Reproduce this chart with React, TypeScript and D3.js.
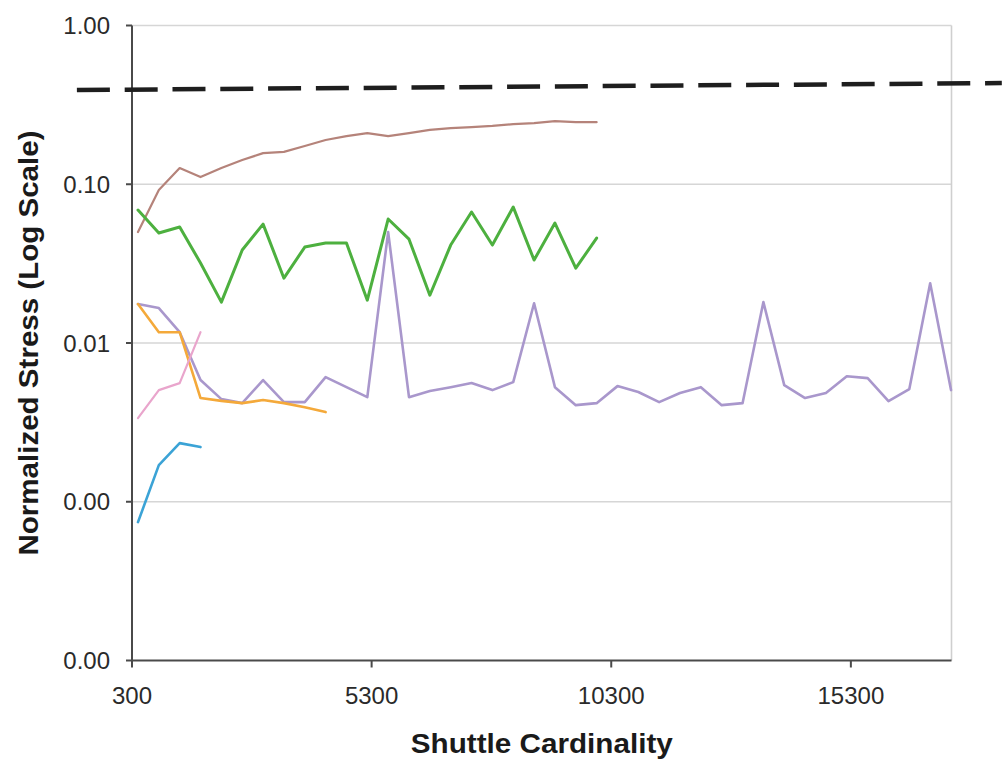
import React from "react";
import * as d3 from "d3";

// Shuttle cardinality (x) values of the sampled runs
const cardinality = [
  425, 860, 1295, 1730, 2165, 2600, 3035, 3470, 3905, 4340,
  4775, 5210, 5645, 6080, 6515, 6950, 7385, 7820, 8255, 8690,
  9125, 9560, 9995, 10430, 10865, 11300, 11735, 12170, 12605, 13040,
  13475, 13910, 14345, 14780, 15215, 15650, 16085, 16520, 16955, 17390,
];

// Normalized stress per series (log scale)
const brownStress = [
  0.05, 0.0919, 0.1265, 0.111, 0.1265, 0.142, 0.157, 0.16, 0.174, 0.19,
  0.201, 0.21, 0.201, 0.21, 0.22, 0.226, 0.229, 0.233, 0.239, 0.243,
  0.25, 0.246, 0.246,
];
const greenStress = [
  0.0688, 0.0493, 0.0538, 0.0319, 0.0181, 0.0385, 0.0561, 0.0256, 0.0402, 0.0426,
  0.0426, 0.0186, 0.0604, 0.0451, 0.02, 0.0414, 0.0668, 0.0414, 0.0718, 0.0333,
  0.057, 0.0296, 0.0458,
];
const purpleStress = [
  0.0176, 0.0166, 0.0117, 0.00584, 0.00443, 0.00418, 0.00584, 0.00424, 0.00424, 0.00609,
  0.00527, 0.00456, 0.05, 0.00456, 0.00498, 0.00527, 0.00559, 0.00505, 0.00567, 0.0178,
  0.00527, 0.00406, 0.00418, 0.00535, 0.00491, 0.00424, 0.00484, 0.00527, 0.00406, 0.00418,
  0.0181, 0.00543, 0.0045, 0.00484, 0.00618, 0.00601, 0.0043, 0.00513, 0.0238, 0.00505,
];
const orangeStress = [
  0.0176, 0.0117, 0.0117, 0.0045, 0.00432, 0.00418, 0.00437, 0.00418, 0.00394, 0.00367,
];
const pinkStress = [0.00336, 0.00505, 0.00559, 0.0117];
const blueStress = [0.000744, 0.0017, 0.00234, 0.00221];

// Dashed reference line (endpoints in data units)
const refX = [-850, 18450];
const refY = [0.392, 0.434];

const xTicks = [300, 5300, 10300, 15300];
const yTicks = [1, 0.1, 0.01, 0.001, 0.0001];
const yTickLabels = ["1.00", "0.10", "0.01", "0.00", "0.00"];

const series = [
  { values: brownStress, color: "#b5837a", width: 2.2 },
  { values: greenStress, color: "#4db03f", width: 3 },
  { values: purpleStress, color: "#a997cc", width: 2.6 },
  { values: orangeStress, color: "#f4a93a", width: 2.6 },
  { values: pinkStress, color: "#e9a5cc", width: 2.2 },
  { values: blueStress, color: "#3ba3d6", width: 2.6 },
];

const W = 1002;
const H = 762;
const left = 132;
const right = 951.5;
const top = 25.5;
const bottom = 660.5;

export default function App() {
  const x = d3.scaleLinear().domain([300, 17400]).range([left, right]);
  const y = d3.scaleLog().domain([0.0001, 1]).range([bottom, top]);
  const line = d3
    .line<[number, number]>()
    .x((d) => x(d[0]))
    .y((d) => y(d[1]));

  const font = "'Liberation Sans', Arial, Helvetica, sans-serif";

  return (
    <svg
      width={W}
      height={H}
      style={{ position: "absolute", left: 0, top: 0, background: "#fff" }}
      fontFamily={font}
    >
      {/* gridlines */}
      {yTicks.slice(0, 4).map((t, i) => (
        <line
          key={"g" + i}
          x1={left}
          x2={right}
          y1={y(t)}
          y2={y(t)}
          stroke="#d6d6d6"
          strokeWidth={1.6}
        />
      ))}
      {/* right border */}
      <line x1={right} x2={right} y1={top} y2={bottom} stroke="#cfcfcf" strokeWidth={1.6} />

      {/* series */}
      {series.map((s, i) => (
        <path
          key={"s" + i}
          d={line(s.values.map((v, j) => [cardinality[j], v] as [number, number])) || ""}
          fill="none"
          stroke={s.color}
          strokeWidth={s.width}
          strokeLinejoin="round"
          strokeLinecap="round"
        />
      ))}

      {/* axes */}
      <line x1={left} x2={left} y1={top} y2={bottom + 0.8} stroke="#4a4a4a" strokeWidth={2} />
      <line x1={left - 0.8} x2={right} y1={bottom} y2={bottom} stroke="#4a4a4a" strokeWidth={2} />
      {yTicks.map((t, i) => (
        <g key={"yt" + i}>
          <line x1={left - 6} x2={left} y1={y(t)} y2={y(t)} stroke="#4a4a4a" strokeWidth={2} />
          <text
            x={110}
            y={y(t)}
            dy="0.36em"
            textAnchor="end"
            fontSize={24}
            fill="#2a2a2a"
          >
            {yTickLabels[i]}
          </text>
        </g>
      ))}
      {xTicks.map((t, i) => (
        <g key={"xt" + i}>
          <line x1={x(t)} x2={x(t)} y1={bottom} y2={bottom + 7} stroke="#4a4a4a" strokeWidth={2} />
          <text x={x(t)} y={704} textAnchor="middle" fontSize={24} fill="#2a2a2a">
            {t}
          </text>
        </g>
      ))}

      {/* dashed reference line */}
      <line
        x1={x(refX[0])}
        x2={x(refX[1])}
        y1={y(refY[0])}
        y2={y(refY[1])}
        stroke="#1e1e1e"
        strokeWidth={4.5}
        strokeDasharray="33 14.8"
      />

      {/* titles */}
      <text
        x={(left + right) / 2}
        y={753}
        textAnchor="middle"
        fontSize={27}
        fontWeight="bold"
        fill="#1a1a1a"
        textLength={262}
        lengthAdjust="spacingAndGlyphs"
      >
        Shuttle Cardinality
      </text>
      <text
        transform={`translate(38, ${(top + bottom) / 2}) rotate(-90)`}
        textAnchor="middle"
        fontSize={27}
        fontWeight="bold"
        fill="#1a1a1a"
        textLength={425}
        lengthAdjust="spacingAndGlyphs"
      >
        Normalized Stress (Log Scale)
      </text>
    </svg>
  );
}
